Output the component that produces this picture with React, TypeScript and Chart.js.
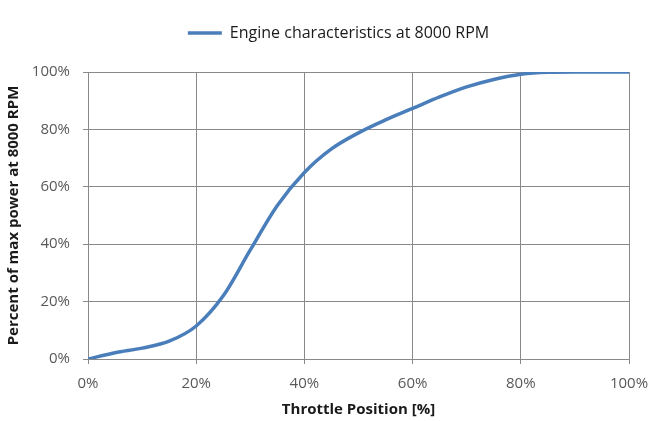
import React, { useEffect, useRef } from "react";
import { Chart, registerables } from "chart.js";

Chart.register(...registerables);

// ---- data ----
const throttle = [0, 5, 10, 15, 20, 25, 30, 35, 40, 45, 50, 55, 60, 65, 70, 75, 80, 85, 90, 95, 100];
const power = [0, 2.2, 3.8, 6.2, 11.5, 22, 38, 53.5, 65, 73.2, 78.8, 83.3, 87.3, 91.3, 94.8, 97.4, 99.2, 99.9, 100, 100, 100];
const seriesLabel = "Engine characteristics at 8000 RPM";
const xTitle = "Throttle Position [%]";
const yTitle = "Percent of max power at 8000 RPM";
const xTickStep = 20;
const yTickStep = 20;

const FONT = "'Open Sans', 'Liberation Sans', sans-serif";
const GRID = "#898989";

const legendShift = {
  id: "legendShift",
  afterLayout(chart: any) {
    const lg = chart.legend;
    if (lg) {
      lg.left = 48;
      lg.width = lg.right - lg.left;
      lg.top -= 21;
      lg.bottom -= 21;
    }
  },
};

export default function App() {
  const ref = useRef<HTMLCanvasElement | null>(null);

  useEffect(() => {
    if (!ref.current) return;
    const chart = new Chart(ref.current, {
      type: "line",
      data: {
        datasets: [
          {
            label: seriesLabel,
            data: throttle.map((x, i) => ({ x, y: power[i] })),
            borderColor: "#4a7ebb",
            backgroundColor: "#4a7ebb",
            borderWidth: 3.5,
            pointRadius: 0,
            fill: false,
            tension: 0.4,
            cubicInterpolationMode: "monotone",
          },
        ],
      },
      options: {
        animation: false,
        responsive: true,
        maintainAspectRatio: false,
        layout: { padding: { top: 0, right: 36, bottom: 0, left: 0 } },
        plugins: {
          legend: {
            position: "top",
            labels: {
              usePointStyle: true,
              pointStyle: "line",
              pointStyleWidth: 34,
              padding: 46,
              color: "#1a1a1a",
              font: { family: FONT, size: 16 },
            },
          },
          tooltip: { enabled: false },
        },
        scales: {
          x: {
            type: "linear",
            min: 0,
            max: 100,
            ticks: {
              stepSize: xTickStep,
              callback: (v: any) => v + "%",
              color: "#595959",
              font: { family: FONT, size: 15 },
              padding: 11,
              maxRotation: 0,
              autoSkip: false,
            },
            grid: { color: GRID, tickLength: 5, lineWidth: 1 },
            border: { color: GRID, width: 1 },
            title: {
              display: true,
              text: xTitle,
              color: "#1a1a1a",
              font: { family: FONT, size: 15, weight: "bold" },
              padding: { top: 0, bottom: 2 },
            },
            afterFit: (s: any) => {
              s.height = 62;
            },
          },
          y: {
            min: 0,
            max: 100,
            ticks: {
              stepSize: yTickStep,
              callback: (v: any) => v + "%",
              color: "#595959",
              font: { family: FONT, size: 15 },
              padding: 13,
            },
            grid: { color: GRID, tickLength: 5, lineWidth: 1 },
            border: { color: GRID, width: 1 },
            title: {
              display: true,
              text: yTitle,
              color: "#1a1a1a",
              font: { family: FONT, size: 15, weight: "bold" },
              padding: { top: 5, bottom: 0 },
            },
            afterFit: (s: any) => {
              s.width = 88;
            },
          },
        },
      },
      plugins: [legendShift],
    } as any);
    return () => chart.destroy();
  }, []);

  return (
    <div style={{ position: "absolute", left: 0, top: 0, width: 665, height: 421, background: "#fff" }}>
      <canvas ref={ref} />
    </div>
  );
}
